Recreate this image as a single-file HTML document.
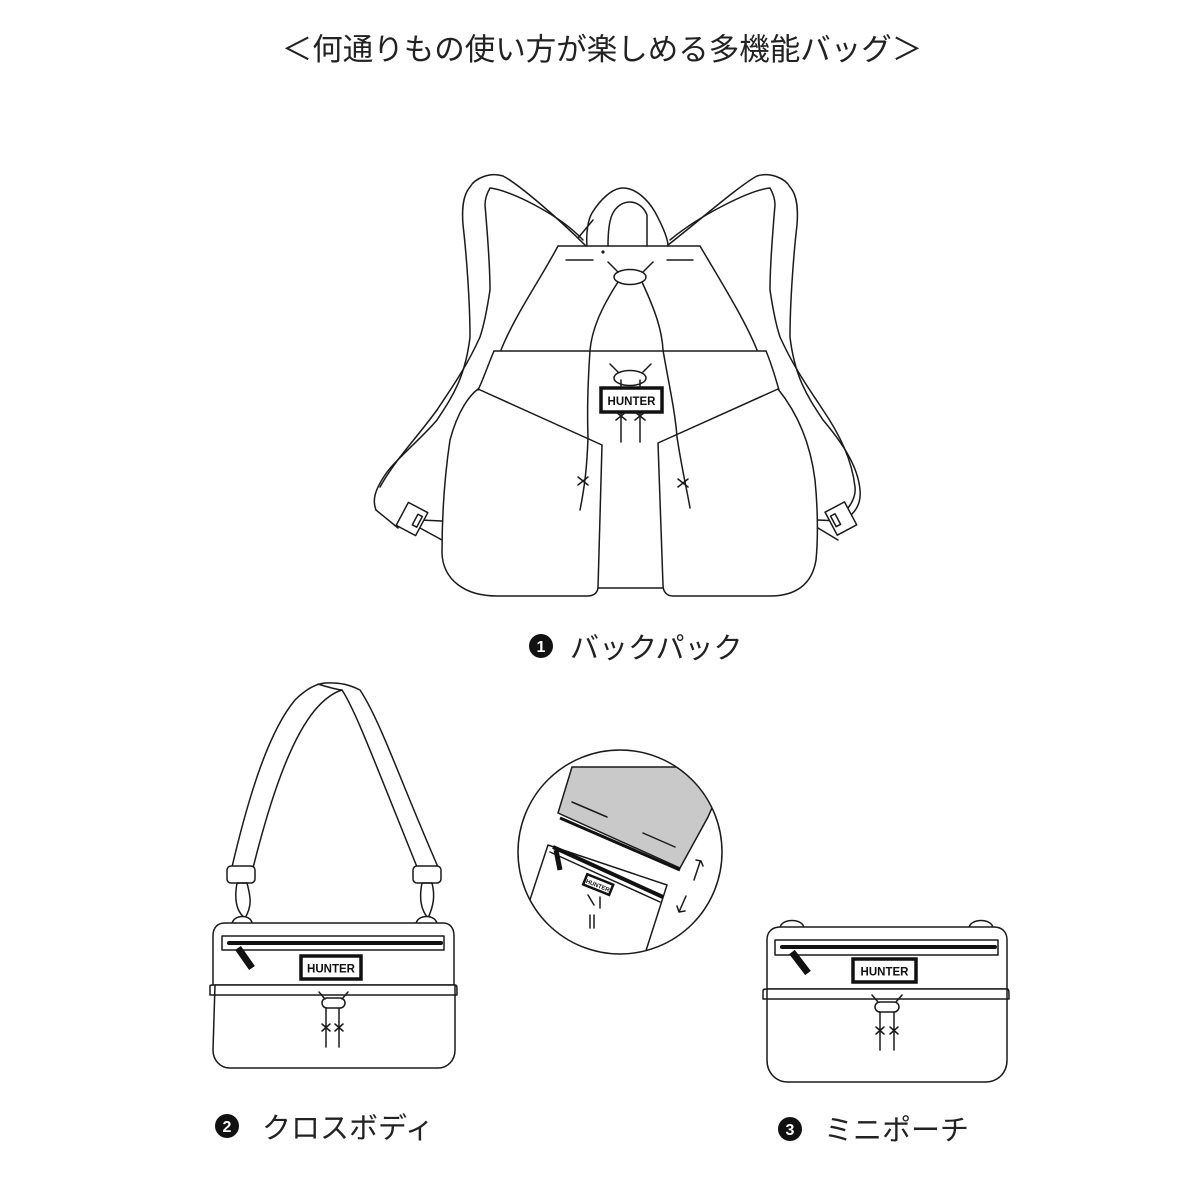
<!DOCTYPE html>
<html><head><meta charset="utf-8"><style>
html,body{margin:0;padding:0;background:#fff;}
svg{display:block}
text{font-family:"Liberation Sans","Noto Sans CJK JP",sans-serif;}
.l{fill:none;stroke:#1a1a1a;stroke-width:1.5;stroke-linejoin:round;stroke-linecap:round}
.w{fill:#fff;stroke:#1a1a1a;stroke-width:1.5;stroke-linejoin:round}
.logo{font-weight:bold;fill:#111;font-family:"Liberation Sans",sans-serif}
</style></head><body>
<svg width="1200" height="1200" viewBox="0 0 1200 1200" xmlns="http://www.w3.org/2000/svg">
<text x="602" y="60" text-anchor="middle" font-size="30.5" fill="#222">＜何通りもの使い方が楽しめる多機能バッグ＞</text>

<!-- BACKPACK -->
<path class="l" d="M586,246 C560,220 520,185 503,176 C490,172 475,178 470,187 C462,196 462,212 463,225 C466,250 470,300 470,337 C465,380 450,400 437,420 C420,440 395,460 385,475 C375,490 372,500 376,510"/>
<path class="l" d="M583,240 C560,215 510,190 490,188 C486,195 485,200 485,205 C488,240 490,270 490,290 C487,310 484,325 480,337 C465,370 450,390 437,410 C415,440 395,460 380,487"/>
<path class="l" d="M376,510 L398,528 M420,520 L442,521 M420,528 L442,540"/>
<g transform="rotate(28 412 519)"><rect class="w" x="401" y="506" width="22" height="26"/><rect class="l" x="415" y="512" width="5" height="12"/></g>
<path class="l" d="M668,245 C700,220 740,185 757,176 C770,172 785,178 790,187 C798,196 798,212 797,225 C794,250 790,300 790,337 C795,380 810,400 823,420 C840,440 858,465 860,490 C861,500 858,508 852,514"/>
<path class="l" d="M670,240 C700,215 750,190 770,188 C774,195 775,200 775,205 C772,240 770,270 770,290 C773,310 776,325 780,337 C795,370 810,390 823,410 C840,435 852,460 855,487 C856,495 852,503 848,508"/>
<path class="l" d="M818,520 L838,521 M818,528 L838,540"/>
<g transform="rotate(-28 840 519)"><rect class="w" x="830" y="506" width="22" height="26"/><rect class="l" x="833" y="512" width="5" height="12"/></g>
<path class="l" d="M587,246 C586,232 588,220 592,213 C600,200 612,188 623,188 C636,188 648,200 655,212 C662,225 668,238 668,246"/>
<path class="l" d="M608,246 C608,232 609,222 612,215 C616,206 623,202 630,202 C637,202 644,207 647,215 L647,246"/>
<path class="l" d="M578,238 L593,220"/>
<path class="l" d="M558,246 L700,246 C720,280 745,320 757,350 M558,246 C540,280 515,315 501,350"/>
<circle cx="603" cy="252" r="1.6" fill="#1a1a1a"/>
<path class="l" d="M566,260 L593,260 M667,260 L693,260"/>
<ellipse class="l" cx="630" cy="277" rx="16" ry="7.5"/>
<path class="l" d="M608,262 L618,272 M653,262 L643,272"/>
<path class="l" d="M494,351 L766,351"/>
<path class="l" d="M494,351 C488,365 483,380 478,390"/>
<path class="l" d="M766,351 C772,365 776,380 779,390"/>
<path class="l" d="M478,389 L602,445 L598,588 C597,594 593,596 587,596 L497,596 C465,596 443,580 442,553 C442,520 444,480 450,440 C458,410 470,395 478,389 Z"/>
<path class="l" d="M658,443 L778,389 C795,410 810,440 815,480 C818,510 818,540 816,560 C812,585 795,596 770,596 L673,596 C667,596 663,592 663,585 Z"/>
<path class="l" d="M598,588 L663,588"/>
<path class="l" d="M618,282 C600,310 592,330 590,350 C588,380 587,410 588,437 C587,470 584,490 580,510"/>
<path class="l" d="M642,282 C655,310 662,330 663,350 C668,380 675,410 677,437 C682,470 687,490 690,508"/>
<path class="l" d="M578,477 L588,485 M588,477 L578,485 M678,479 L688,487 M688,479 L678,487"/>
<ellipse class="l" cx="630" cy="378" rx="16" ry="7.5"/>
<path class="l" d="M610,364 L618,372 M651,364 L643,372 M621,380 L621,442 M640,380 L640,442"/>
<rect x="601" y="388" width="61" height="24" fill="#fff" stroke="#111" stroke-width="3.5"/>
<text class="logo" x="631.5" y="405" text-anchor="middle" font-size="11.5">HUNTER</text>
<path class="l" d="M616,412 L626,420 M626,412 L616,420 M635,412 L645,420 M645,412 L635,420" stroke-width="1"/>

<circle cx="541" cy="646" r="12" fill="#111"/>
<text x="541" y="652" text-anchor="middle" font-size="16" fill="#fff" font-weight="bold">1</text>
<text x="570" y="658" font-size="29" fill="#222">バックパック</text>

<!-- CROSSBODY -->
<path class="l" d="M232,867 C250,790 270,730 295,700 C305,690 315,684 325,683 C340,682 350,685 360,690 C380,720 400,780 438,867"/>
<path class="l" d="M253,868 C270,800 290,740 315,710 C325,698 335,692 342,690 C355,710 370,750 417,867"/>
<path class="l" d="M318,684 C330,688 340,690 342,690"/>
<rect class="w" x="227" y="866" width="28" height="17" rx="4"/>
<rect class="w" x="413" y="866" width="28" height="17" rx="4"/>
<path class="l" d="M237,883 L247,883 C250,895 253,905 245,918 C237,912 234,900 237,883 Z"/>
<path class="l" d="M422,883 L432,883 C435,895 434,905 428,918 C421,910 419,898 422,883 Z"/>
<path class="w" d="M232,924 C233,914 252,914 252,924"/>
<path class="w" d="M416,924 C417,914 436,914 437,924"/>
<path class="w" d="M225,923 L443,923 C450,923 454,928 454,936 L454,985 L213,985 L213,936 C213,928 217,923 225,923 Z"/>
<path class="w" d="M215,985 L455,985 L455,1050 C455,1060 448,1068 438,1068 L230,1068 C220,1068 213,1060 213,1050 Z"/>
<path class="l" d="M210,995 L210,986 C210,985 211,985 213,985 M455,985 C457,985 457,986 457,995 L210,995"/>
<rect class="l" x="222" y="936" width="222" height="14"/>
<path d="M229,943 L441,943" stroke="#111" stroke-width="4" stroke-linecap="round"/>
<path d="M238,948 L252,968" stroke="#111" stroke-width="7"/>
<rect x="301" y="956" width="60" height="23" fill="#fff" stroke="#111" stroke-width="3.5"/>
<text class="logo" x="331" y="972.5" text-anchor="middle" font-size="11.5">HUNTER</text>
<path class="l" d="M319,992 L325,999 M348,992 L342,999"/>
<rect class="l" x="322" y="998" width="23" height="10" rx="5"/>
<path class="l" d="M326,1008 L326,1047 M339,1008 L339,1047 M322,1024 L330,1031 M330,1024 L322,1031 M335,1024 L343,1031 M343,1024 L335,1031" stroke-width="1.2"/>

<circle cx="227" cy="1126" r="12" fill="#111"/>
<text x="227" y="1132" text-anchor="middle" font-size="16" fill="#fff" font-weight="bold">2</text>
<text x="262" y="1138" font-size="29" fill="#222">クロスボディ</text>

<!-- CIRCLE INSET -->
<defs><clipPath id="cc"><circle cx="620" cy="852" r="102"/></clipPath></defs>
<g clip-path="url(#cc)">
<path d="M572,767 L730,767 L708,817 L680,868 L558,813 Z" fill="#c9c9c9" stroke="#1a1a1a" stroke-width="1.5"/>
<path d="M560,818 L680,870" stroke="#111" stroke-width="3"/>
<path class="l" d="M572,802 L607,817 M643,833 L675,847" stroke-width="1.2"/>
<path class="l" d="M548,845 L667,885 L643,960 M548,845 L520,930"/>
<path d="M553,847 L663,897" stroke="#111" stroke-width="4"/>
<path class="l" d="M550,852 L660,902" stroke-width="1"/>
<path d="M556,850 L560,870" stroke="#111" stroke-width="5"/>
<g transform="rotate(22 598 885)"><rect x="584" y="879" width="28" height="11" fill="#fff" stroke="#111" stroke-width="2.5"/><text class="logo" x="598" y="887.5" text-anchor="middle" font-size="6">HUNTER</text></g>
<path class="l" d="M588,895 L594,905 M600,897 L600,908 M590,915 L590,928 M594,915 L594,928" stroke-width="1"/>
</g>
<circle class="l" cx="620" cy="852" r="102"/>
<path class="l" d="M694,880 L700,862 M696,860 L701,861 L703,866" stroke-width="2"/>
<path class="l" d="M686,896 L679,912 M677,906 L679,912 L685,911" stroke-width="2"/>

<!-- MINI POUCH -->
<path class="w" d="M780,928 C781,918 803,918 804,928"/>
<path class="w" d="M969,928 C970,918 992,918 993,928"/>
<path class="w" d="M780,927 L994,927 C1002,927 1007,932 1007,940 L1007,989 L767,989 L767,940 C767,932 772,927 780,927 Z"/>
<path class="w" d="M767,989 L1007,989 L1007,1060 C1007,1073 998,1082 985,1082 L788,1082 C776,1082 767,1073 767,1060 Z"/>
<path class="l" d="M763,999 L763,991 C763,989 765,989 767,989 M1007,989 C1009,989 1009,991 1009,999 L763,999"/>
<rect class="l" x="775" y="940" width="223" height="15"/>
<path d="M782,947 L995,947" stroke="#111" stroke-width="4" stroke-linecap="round"/>
<path d="M792,952 L808,973" stroke="#111" stroke-width="7"/>
<rect x="853" y="959" width="63" height="23" fill="#fff" stroke="#111" stroke-width="3.5"/>
<text class="logo" x="884.5" y="975.5" text-anchor="middle" font-size="11.5">HUNTER</text>
<path class="l" d="M872,995 L878,1002 M902,995 L896,1002"/>
<rect class="l" x="875" y="1002" width="24" height="10" rx="5"/>
<path class="l" d="M880,1012 L880,1050 M894,1012 L894,1050 M876,1027 L884,1034 M884,1027 L876,1034 M890,1027 L898,1034 M898,1027 L890,1034" stroke-width="1.2"/>

<circle cx="790" cy="1129" r="12" fill="#111"/>
<text x="790" y="1135" text-anchor="middle" font-size="16" fill="#fff" font-weight="bold">3</text>
<text x="824" y="1140" font-size="29" fill="#222">ミニポーチ</text>
</svg>
</body></html>
